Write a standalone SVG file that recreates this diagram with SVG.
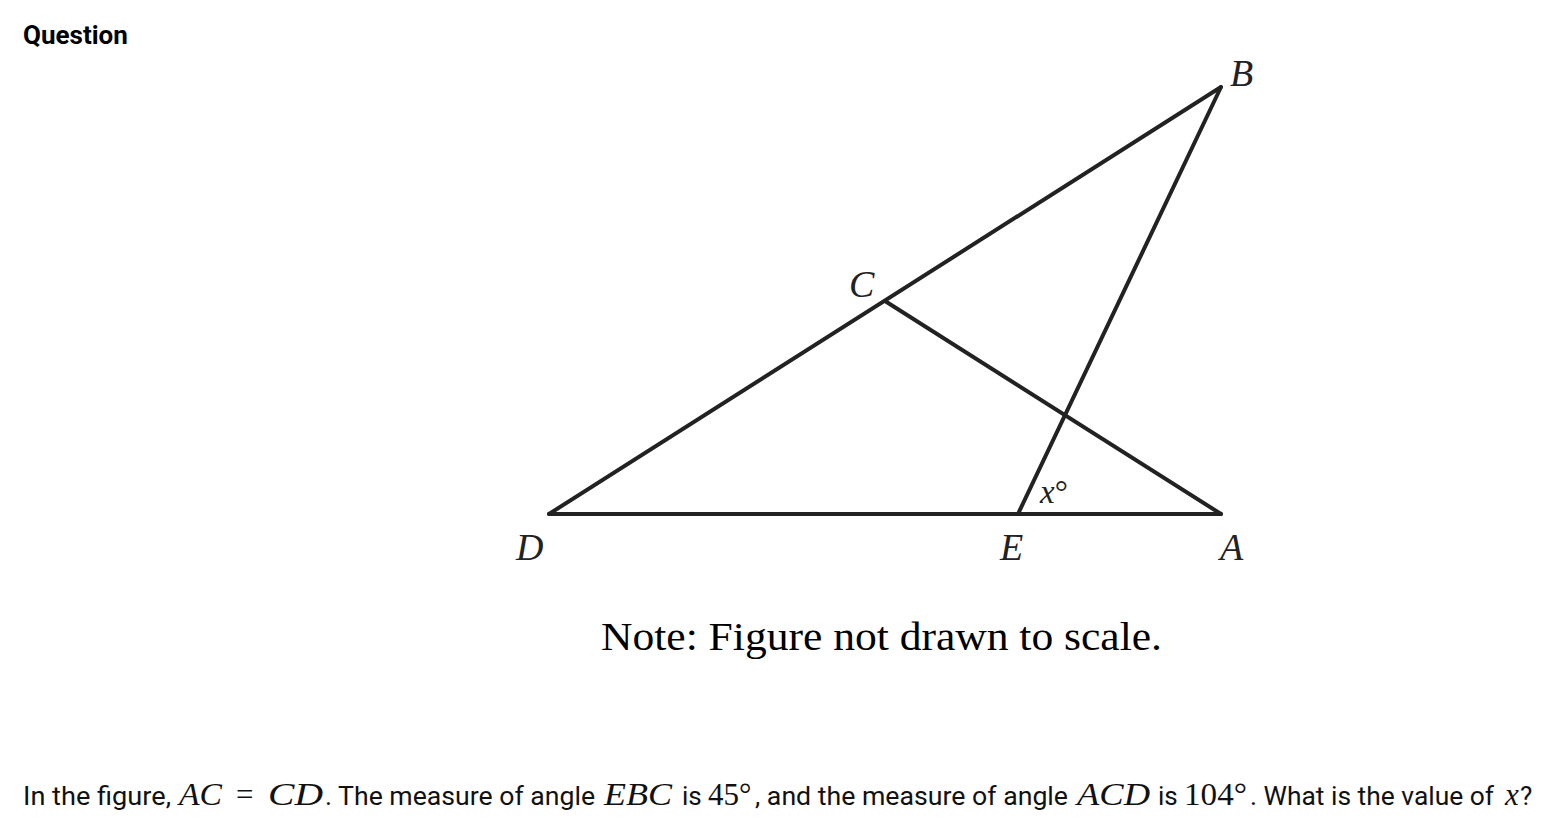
<svg xmlns="http://www.w3.org/2000/svg" width="1556" height="835" viewBox="0 0 1556 835">
<style>
.ln{stroke:#222;stroke-width:4;fill:none;stroke-linecap:round;stroke-linejoin:round}
.lbl{font-family:"Liberation Serif","DejaVu Serif",serif;font-style:italic;font-size:38px;fill:#222}
.body{font-family:Roboto,"Liberation Sans",sans-serif;font-size:26px;fill:#111}
.m{font-family:"Liberation Serif","DejaVu Serif",serif;font-style:italic;font-size:31px;fill:#111}
.mn{font-family:"Liberation Serif","DejaVu Serif",serif;font-style:normal;font-size:31px;fill:#111}
</style>
<rect width="1556" height="835" fill="#fff"/>
<text x="23" y="44" font-family="Roboto,'Liberation Sans',sans-serif" font-weight="bold" font-size="26" fill="#000">Question</text>
<g id="connectors">
<line class="ln" x1="549" y1="514" x2="1221" y2="514"/>
<line class="ln" x1="549" y1="514" x2="1221" y2="87"/>
<line class="ln" x1="1018" y1="514" x2="1221" y2="87"/>
<line class="ln" x1="885" y1="301" x2="1221" y2="514"/>
</g>
<g id="node-B"><text class="lbl" x="1230" y="86">B</text></g>
<g id="node-C"><text class="lbl" x="849" y="297">C</text></g>
<g id="node-D"><text class="lbl" x="516" y="560">D</text></g>
<g id="node-E"><text class="lbl" x="1000" y="560">E</text></g>
<g id="node-A"><text class="lbl" x="1220" y="560">A</text></g>
<g id="angle-x"><text x="1040" y="503" font-family="'Liberation Serif','DejaVu Serif',serif" font-size="33" fill="#222"><tspan font-style="italic">x</tspan>°</text></g>
<text x="601" y="650" font-family="'Liberation Serif','DejaVu Serif',serif" font-size="40" fill="#000" textLength="561" lengthAdjust="spacingAndGlyphs">Note: Figure not drawn to scale.</text>
<g id="question-text">
<text class="body" x="23" y="805" textLength="148" lengthAdjust="spacingAndGlyphs">In the figure,</text>
<text class="m" x="179" y="805" textLength="43" lengthAdjust="spacingAndGlyphs">AC</text>
<text class="mn" x="236" y="805">=</text>
<text class="m" x="268" y="805" textLength="55" lengthAdjust="spacingAndGlyphs">CD</text>
<text class="body" x="325" y="805" textLength="270" lengthAdjust="spacingAndGlyphs">. The measure of angle</text>
<text class="m" x="604" y="805" textLength="68" lengthAdjust="spacingAndGlyphs">EBC</text>
<text class="body" x="682" y="805">is</text>
<text class="mn" x="708" y="805">45°</text>
<text class="body" x="755" y="805" textLength="313" lengthAdjust="spacingAndGlyphs">, and the measure of angle</text>
<text class="m" x="1077" y="805" textLength="73" lengthAdjust="spacingAndGlyphs">ACD</text>
<text class="body" x="1158" y="805">is</text>
<text class="mn" x="1184" y="805" textLength="63" lengthAdjust="spacingAndGlyphs">104°</text>
<text class="body" x="1250" y="805" textLength="244" lengthAdjust="spacingAndGlyphs">. What is the value of</text>
<text class="m" x="1505" y="805">x</text>
<text class="body" x="1520" y="805">?</text>
</g>
</svg>
